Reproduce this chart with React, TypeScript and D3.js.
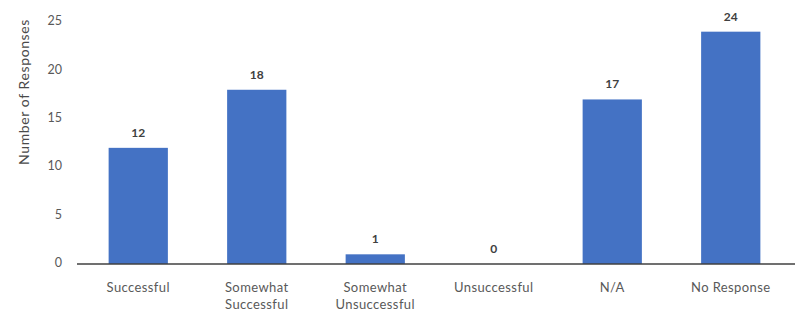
import React from "react";
import * as d3 from "d3";

const categories = [
  "Successful",
  "Somewhat Successful",
  "Somewhat Unsuccessful",
  "Unsuccessful",
  "N/A",
  "No Response",
];
// label lines for the x axis
const categoryLines = [
  ["Successful"],
  ["Somewhat", "Successful"],
  ["Somewhat", "Unsuccessful"],
  ["Unsuccessful"],
  ["N/A"],
  ["No Response"],
];
const responses = [12, 18, 1, 0, 17, 24];
const yTicks = [0, 5, 10, 15, 20, 25];

const W = 803,
  H = 311;
const margin = { top: 22, right: 13, bottom: 47, left: 79 };

export default function App() {
  const x = d3
    .scaleBand<string>()
    .domain(categories)
    .range([margin.left, W - margin.right])
    .paddingInner(0.5)
    .paddingOuter(0.25);

  const y = d3
    .scaleLinear()
    .domain([0, 25])
    .range([H - margin.bottom, margin.top]);

  const font = "Lato, 'Open Sans', sans-serif";
  const cx = (i: number) => (x(categories[i]) ?? 0) + x.bandwidth() / 2;

  return (
    <svg
      width={W}
      height={H}
      style={{ position: "absolute", left: 0, top: 0, background: "#fff" }}
      fontFamily={font}
    >
      {/* y axis title */}
      <text
        transform="translate(25,92) rotate(-90)"
        textAnchor="middle"
        dominantBaseline="middle"
        fontSize={14}
        letterSpacing={0.6}
        fill="#4a4a4a"
      >
        Number of Responses
      </text>

      {/* y tick labels */}
      {yTicks.map((t) => (
        <text
          key={t}
          x={62}
          y={y(t)}
          textAnchor="end"
          dominantBaseline="middle"
          fontSize={12.5}
          fill="#595959"
        >
          {t}
        </text>
      ))}

      {/* bars */}
      {responses.map((v, i) => (
        <rect
          key={categories[i]}
          x={x(categories[i])}
          y={y(v)}
          width={x.bandwidth()}
          height={y(0) - y(v)}
          fill="#4472C4"
        />
      ))}

      {/* value labels */}
      {responses.map((v, i) => (
        <text
          key={"l" + i}
          x={cx(i)}
          y={y(v) - 11}
          textAnchor="middle"
          fontSize={12}
          fontWeight="bold"
          fill="#404040"
        >
          {v}
        </text>
      ))}

      {/* x axis line */}
      <line
        x1={77}
        x2={W - 8}
        y1={y(0)}
        y2={y(0)}
        stroke="#404040"
        strokeWidth={1.5}
      />

      {/* category labels */}
      {categoryLines.map((lines, i) => (
        <text
          key={"c" + i}
          x={cx(i)}
          y={y(0) + 28}
          textAnchor="middle"
          fontSize={13}
          letterSpacing={0.4}
          fill="#595959"
        >
          {lines.map((ln, j) => (
            <tspan key={j} x={cx(i)} dy={j === 0 ? 0 : 17}>
              {ln}
            </tspan>
          ))}
        </text>
      ))}
    </svg>
  );
}
